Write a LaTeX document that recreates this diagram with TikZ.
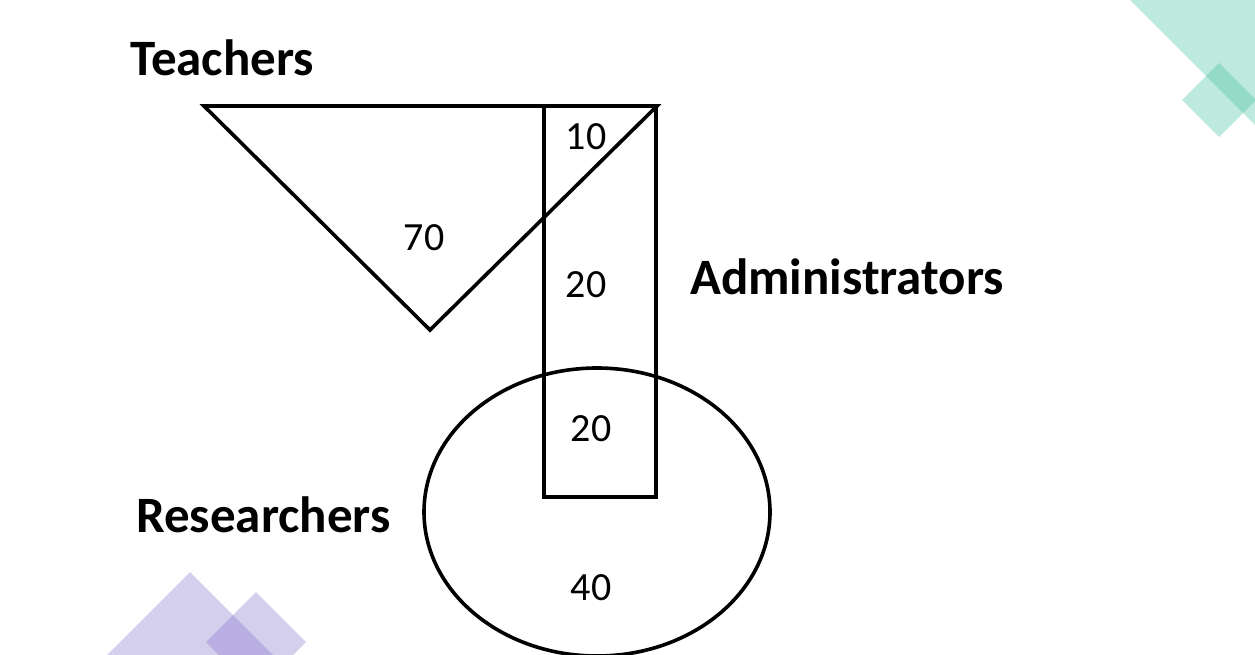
\documentclass[tikz,border=0pt]{standalone}
\usepackage{fontspec}
\setmainfont{Carlito}
\begin{document}
\begin{tikzpicture}[x=1pt,y=-1pt,
  shape line/.style={line width=3.6pt, line join=miter},
  title/.style={font=\bfseries\fontsize{51}{56}\selectfont, anchor=west, inner sep=0pt},
  num/.style={font=\fontsize{40}{44}\selectfont, inner sep=0pt},
  tealdeco/.style={fill={rgb,255:red,60;green,190;blue,155}, fill opacity=0.33},
  purpdeco/.style={fill={rgb,255:red,130;green,110;blue,205}, fill opacity=0.33}]
\useasboundingbox (0,0) rectangle (1255,655);
\fill[white] (0,0) rectangle (1255,655);
% decorations
\fill[tealdeco] (1130,0) -- (1255,125) -- (1255,0) -- cycle;
\fill[tealdeco] (1219,63) -- (1256,100) -- (1219,137) -- (1182,100) -- cycle;
\fill[purpdeco] (190,572) -- (275,657) -- (105,657) -- cycle;
\fill[purpdeco] (256,592) -- (306,642) -- (256,692) -- (206,642) -- cycle;
% shapes
\draw[shape line] (204,106) -- (657,106) -- (430,330) -- cycle;
\draw[shape line] (544,106) rectangle (656,497);
\draw[shape line] (597,512) ellipse [x radius=173, y radius=144];
% labels
\node[title] (teachers) at (130,58) {Teachers};
\node[title] (admin) at (690,277) {Administrators};
\node[title] (research) at (136,515) {Researchers};
\node[num] (n10) at (586,137) {10};
\node[num] (n70) at (424,238) {70};
\node[num] (n20a) at (586,285) {20};
\node[num] (n20b) at (591,429) {20};
\node[num] (n40) at (591,588) {40};
\end{tikzpicture}
\end{document}
